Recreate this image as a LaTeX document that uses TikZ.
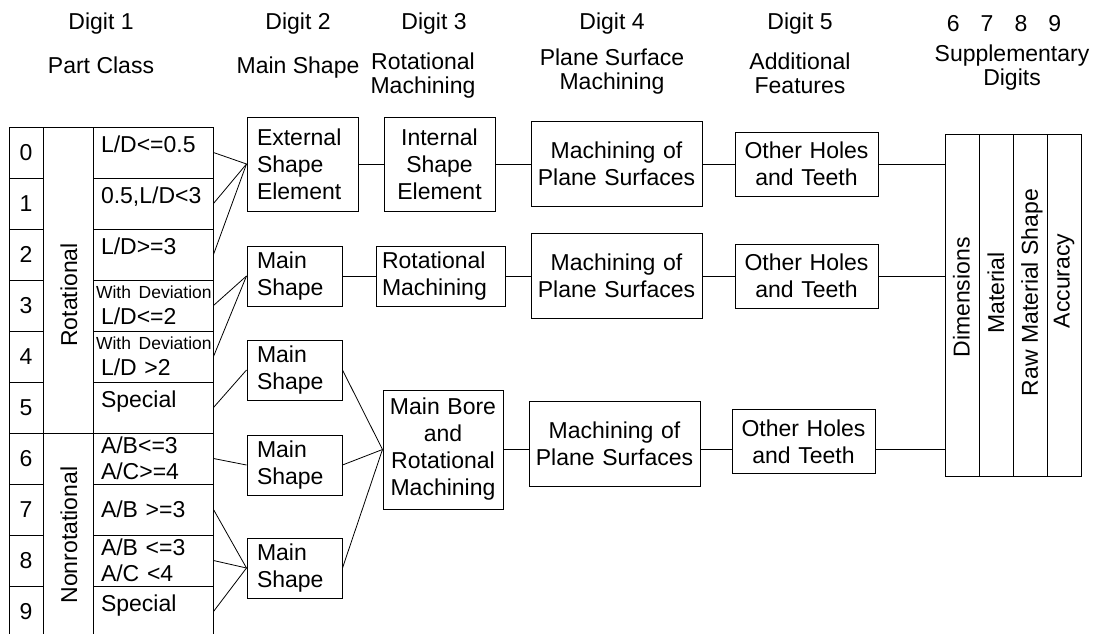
\documentclass[tikz,border=0pt]{standalone}
\usepackage{fontspec}
\setmainfont{Liberation Sans}
\usetikzlibrary{positioning}
\newcommand{\devfont}{\fontsize{17.5}{20}\selectfont}

\begin{document}
\begin{tikzpicture}[
    x=1pt, y=-1pt,
    every node/.style={font=\fontsize{23}{27}\selectfont},
    hdr/.style={align=center, font=\fontsize{23}{24}\selectfont},
    digcell/.style={rectangle, draw, line width=1pt, minimum width=34pt, minimum height=51pt, inner sep=0pt},
    desccell/.style={rectangle, draw, line width=1pt, minimum width=120pt, minimum height=51pt, text width=104pt, inner xsep=8pt, inner ysep=0pt, align=left, font=\fontsize{23}{26}\selectfont},
    onecell/.style={desccell, text height=12pt, text depth=12pt},
    classcell/.style={rectangle, draw, line width=1pt, minimum width=50pt, inner sep=0pt},
    box/.style={rectangle, draw, line width=1pt, inner ysep=0pt},
    planebox/.style={box, text width=161pt, inner xsep=5pt, minimum height=85pt, align=center},
    holebox/.style={box, text width=133pt, inner xsep=5pt, minimum height=64pt, align=center},
    shapebox/.style={box, text width=75pt, inner xsep=10pt, minimum height=60pt, align=left},
    suppcol/.style={rectangle, draw, line width=1pt, minimum width=34pt, minimum height=342pt, inner sep=0pt},
    link/.style={draw, line width=0.8pt}
]
    \useasboundingbox (0,0) rectangle (1098,634);
    \clip (0,0) rectangle (1098,634);

    % Headers
    \node[hdr, anchor=base] (dig1) at (101,30) {Digit 1};
    \node[hdr, anchor=base] (dig2) at (298,30) {Digit 2};
    \node[hdr, anchor=base] (dig3) at (434,30) {Digit 3};
    \node[hdr, anchor=base] (dig4) at (612,30) {Digit 4};
    \node[hdr, anchor=base] (dig5) at (800,30) {Digit 5};
    \node[hdr, anchor=base] (dig69) at (1004,32) {6\hspace{21pt}7\hspace{21pt}8\hspace{21pt}9};
    \node[hdr, anchor=base] (hpart) at (101,74) {Part Class};
    \node[hdr, anchor=base] (hmain) at (298,74) {Main Shape};
    \node[hdr] (hrot) at (423,75.5) {Rotational\\Machining};
    \node[hdr] (hplane) at (612,72) {Plane Surface\\Machining};
    \node[hdr] (hadd) at (800,73) {Additional\\Features};
    \node[hdr] (hsupp) at (1012,68) {Supplementary\\Digits};

    % Digit 1 table
    \foreach \i in {0,...,9}
        \node[digcell] (d\i) at (26,{152.5+51*\i}) {\i};
    \node[classcell, minimum height=306pt] (rot) at (68,280) {};
    \node[classcell, minimum height=204pt] (nonrot) at (68,535) {};
    \node[rotate=90] (rotlbl) at (69,295) {Rotational};
    \node[rotate=90] (nonrotlbl) at (69,535) {Nonrotational};

    \node[onecell] (c0) at (153,152.5) {L/D<=0.5};
    \node[onecell] (c1) at (153,203.5) {0.5,L/D<3};
    \node[onecell] (c2) at (153,254.5) {L/D>=3};
    \node[desccell] (c3) at (153,305.5) {\hspace*{-5pt}\mbox{\devfont With Deviation}\\L/D<=2};
    \node[desccell] (c4) at (153,356.5) {\hspace*{-5pt}\mbox{\devfont With Deviation}\\L/D >2};
    \node[onecell] (c5) at (153,407.5) {Special};
    \node[desccell] (c6) at (153,458.5) {A/B<=3\\A/C>=4};
    \node[desccell] (c7) at (153,509.5) {A/B >=3};
    \node[desccell] (c8) at (153,560.5) {A/B <=3\\A/C <4};
    \node[onecell] (c9) at (153,611.5) {Special};

    % Row 1
    \node[box, text width=91pt, inner xsep=10pt, minimum height=94pt, align=left] (ext) at (302.5,164) {External\\Shape\\Element};
    \node[box, text width=91pt, inner xsep=10pt, minimum height=94pt, align=center, right=25pt of ext] (int) {Internal\\Shape\\Element};
    \node[planebox, right=35pt of int] (pm1) {Machining of\\Plane Surfaces};
    \node[holebox, right=32pt of pm1] (oh1) {Other Holes\\and Teeth};

    % Row 2
    \node[shapebox] (ms2) at (294.5,276) {Main\\Shape};
    \node[box, text width=117pt, inner xsep=6pt, minimum height=60pt, align=left, right=33pt of ms2] (rm) {Rotational\\Machining};
    \node[planebox, right=25pt of rm] (pm2) {Machining of\\Plane Surfaces};
    \node[holebox, right=32pt of pm2] (oh2) {Other Holes\\and Teeth};

    % Row 3
    \node[shapebox, below=33pt of ms2] (ms3a) {Main\\Shape};
    \node[shapebox, below=34pt of ms3a] (ms3b) {Main\\Shape};
    \node[shapebox, below=42pt of ms3b] (ms3c) {Main\\Shape};
    \node[box, text width=110pt, inner xsep=5pt, minimum height=119pt, align=center] (mb) at (443,449.5) {Main Bore\\and\\Rotational\\Machining};
    \node[planebox] (pm3) at (614.5,443.5) {Machining of\\Plane Surfaces};
    \node[holebox] (oh3) at (803.5,441.5) {Other Holes\\and Teeth};

    % Supplementary digits
    \foreach \j/\xc in {1/962,2/996,3/1030,4/1064}
        \node[suppcol] (s\j) at (\xc,305) {};
    \node[rotate=90] (dimlbl) at (961.5,297.5) {Dimensions};
    \node[rotate=90] (matlbl) at (996,293) {Material};
    \node[rotate=90] (rawlbl) at (1032,292.5) {Raw Material Shape};
    \node[rotate=90] (acclbl) at (1064,281) {Accuracy};

    % Connecting lines
    \foreach \c in {0,1,2}
        \path[link] (c\c.east) -- (ext.west);
    \foreach \c in {3,4}
        \path[link] (c\c.east) -- (ms2.west);
    \path[link] (c5.east) -- (ms3a.west);
    \path[link] (c6.east) -- (ms3b.west);
    \foreach \c in {7,8,9}
        \path[link] (c\c.east) -- (ms3c.west);
    \foreach \m in {ms3a,ms3b,ms3c}
        \path[link] (\m.east) -- (mb.west);

    \path[link] (ext.east) -- (int.west);
    \path[link] (int.east) -- (pm1.west);
    \path[link] (pm1.east) -- (oh1.west);
    \path[link] (oh1.east) -- (oh1.east -| s1.west);

    \path[link] (ms2.east) -- (rm.west);
    \path[link] (rm.east) -- (pm2.west);
    \path[link] (pm2.east) -- (oh2.west);
    \path[link] (oh2.east) -- (oh2.east -| s1.west);

    \path[link] (mb.east) -- (mb.east -| pm3.west);
    \path[link] (pm3.east |- mb.east) -- (mb.east -| oh3.west);
    \path[link] (oh3.east |- mb.east) -- (mb.east -| s1.west);
\end{tikzpicture}
\end{document}
